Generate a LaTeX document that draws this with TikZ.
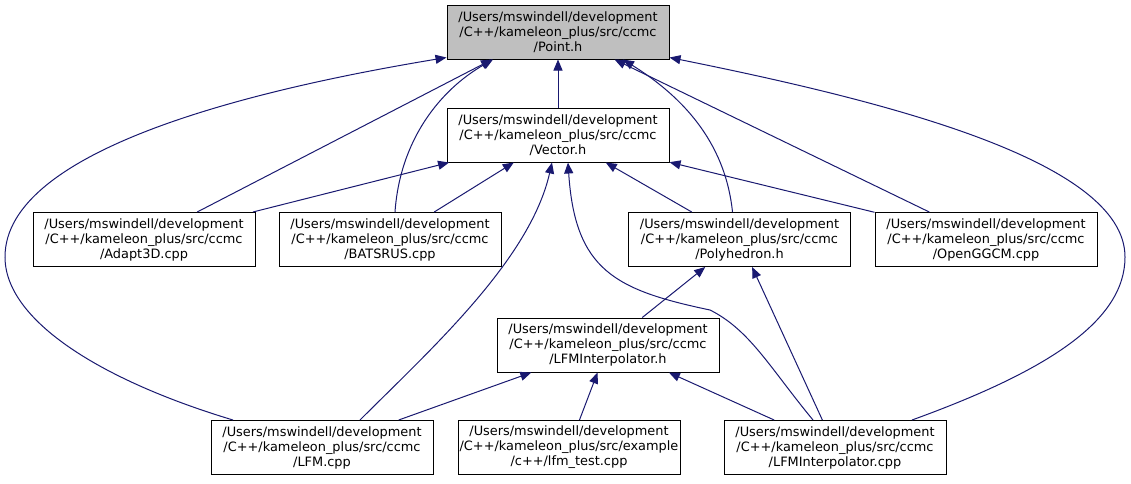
\documentclass[tikz,border=0pt]{standalone}
\usepackage{fontspec}
\setmainfont{DejaVu Sans}
\usetikzlibrary{arrows.meta}
\definecolor{depblue}{RGB}{25,25,112}
\definecolor{boxgray}{RGB}{191,191,191}
\begin{document}
\begin{tikzpicture}[x=1pt,y=-1pt,
    file/.style={draw=black, line width=1pt, fill=white, minimum width=222pt,
        minimum height=54pt, inner sep=0pt, align=center,
        font=\fontsize{12.9}{15}\selectfont},
    dep/.style={depblue, line width=1pt, -{Triangle[length=11pt,width=9pt]}}]
    \useasboundingbox (0,0) rectangle (1131,483);
    % Cabeceras
    \node[file, fill=boxgray] (pt) at (558,32)
        {/Users/mswindell/development\\/C++/kameleon\_plus/src/ccmc\\/Point.h};
    \node[file] (vec) at (558,135)
        {/Users/mswindell/development\\/C++/kameleon\_plus/src/ccmc\\/Vector.h};
    % Fila media
    \node[file] (adapt) at (144,239.5)
        {/Users/mswindell/development\\/C++/kameleon\_plus/src/ccmc\\/Adapt3D.cpp};
    \node[file] (bats) at (390,239.5)
        {/Users/mswindell/development\\/C++/kameleon\_plus/src/ccmc\\/BATSRUS.cpp};
    \node[file] (poly) at (739.5,239.5)
        {/Users/mswindell/development\\/C++/kameleon\_plus/src/ccmc\\/Polyhedron.h};
    \node[file] (ogg) at (986,239.5)
        {/Users/mswindell/development\\/C++/kameleon\_plus/src/ccmc\\/OpenGGCM.cpp};
    \node[file] (lfmih) at (608,345)
        {/Users/mswindell/development\\/C++/kameleon\_plus/src/ccmc\\/LFMInterpolator.h};
    % Fila inferior
    \node[file] (lfm) at (322,447.5)
        {/Users/mswindell/development\\/C++/kameleon\_plus/src/ccmc\\/LFM.cpp};
    \node[file] (test) at (569,447.5)
        {/Users/mswindell/development\\/C++/kameleon\_plus/src/example\\/c++/lfm\_test.cpp};
    \node[file] (lfmic) at (835,447.5)
        {/Users/mswindell/development\\/C++/kameleon\_plus/src/ccmc\\/LFMInterpolator.cpp};
    % Dependencias de Point.h
    \draw[dep] (vec) -- (pt);
    \draw[dep] (adapt) -- ([xshift=-66pt]pt.south);
    \draw[dep] ([xshift=5pt]bats.north) .. controls (400,140) and (440,90) .. ([xshift=-65pt]pt.south);
    \draw[dep] ([xshift=-7pt]poly.north) .. controls (725,140) and (680,95) .. ([xshift=65pt]pt.south);
    \draw[dep] (ogg) -- (pt);
    \draw[dep] ([xshift=-89pt]lfm.north) .. controls (100,380) and (5,320) .. (5,257)
        .. controls (5,150) and (250,90) .. ([yshift=2pt]pt.south west);
    \draw[dep] ([xshift=77pt]lfmic.north) .. controls (1050,370) and (1125,320) .. (1125,257)
        .. controls (1125,160) and (880,100) .. ([yshift=2pt]pt.south east);
    % Dependencias de Vector.h
    \draw[dep] (adapt) -- (vec);
    \draw[dep] (bats) -- (vec);
    \draw[dep] (poly) -- (vec);
    \draw[dep] (ogg) -- (vec);
    \draw[dep] ([xshift=38pt]lfm.north) .. controls (430,350) and (530,260) .. ([xshift=-6pt]vec.south);
    \draw[dep] ([xshift=-22pt]lfmic.north) .. controls (770,368) and (750,330) .. (710,310)
        .. controls (615,290) and (575,270) .. ([xshift=10pt]vec.south);
    % Polyhedron.h y LFMInterpolator.h
    \draw[dep] (lfmih) -- (poly);
    \draw[dep] (lfmic) -- (poly);
    \draw[dep] (lfm) -- (lfmih);
    \draw[dep] (test) -- (lfmih);
    \draw[dep] (lfmic) -- (lfmih);
\end{tikzpicture}
\end{document}
